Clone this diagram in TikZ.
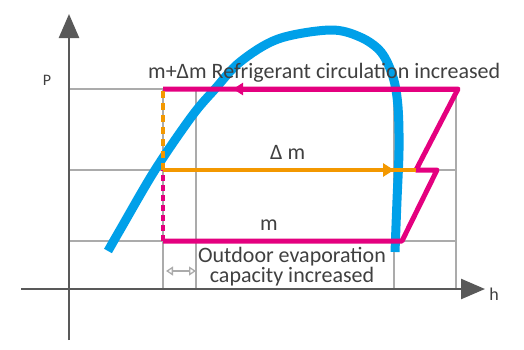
\documentclass[tikz,border=0pt]{standalone}
\usepackage{fontspec}
\setmainfont{Carlito}
\usetikzlibrary{arrows.meta}
\definecolor{cycPink}{HTML}{E4007F}
\definecolor{cycOrange}{HTML}{F39800}
\definecolor{domeBlue}{HTML}{00A0E9}
\definecolor{gridGrey}{HTML}{ABABAB}
\definecolor{axisGrey}{HTML}{595959}
\definecolor{txtGrey}{HTML}{404040}

\begin{document}
\begin{tikzpicture}[x=1pt, y=-1pt,
   axis/.style={draw=axisGrey, line width=2.5pt,
                -{Triangle[length=24pt, width=20pt]}},
   gridline/.style={draw=gridGrey, line width=1.3pt},
   dome/.style={draw=domeBlue, line width=9pt},
   cyc/.style={draw=cycPink, line width=5pt, line join=round},
   flow/.style={draw=cycOrange, line width=4.5pt},
   lbl/.style={text=txtGrey, font=\fontsize{22}{20}\selectfont, inner sep=0pt}]
\useasboundingbox (0,0) rectangle (524,349);

% grid
\foreach \y in {89,170,241}
  \draw[gridline] (69,\y) -- (456,\y);
\foreach \x in {163,196,394,456}
  \draw[gridline] (\x,89) -- (\x,289);

% axes
\coordinate (pbot) at (69,340);
\coordinate (ptop) at (69,14);
\coordinate (hleft) at (21,289);
\coordinate (hright) at (485,289);
\draw[axis] (pbot) -- (ptop);
\draw[axis] (hleft) -- (hright);
\node[lbl, font=\fontsize{16}{16}\selectfont] (plbl) at (47,80) {P};
\node[lbl, font=\fontsize{18}{18}\selectfont, anchor=base] (hlbl) at (494,300) {h};

% saturation dome
\draw[dome] plot[smooth, tension=0.55] coordinates
  {(108,251) (120,230) (155,170) (192,116) (215,89) (240,62) (278,39)
   (330,30) (360,37) (381,52) (393,77) (398,107) (399,150) (397,200)
   (395,252)};

% cycle corners
\coordinate (tl) at (163,89);
\coordinate (tr) at (458,89);
\coordinate (ta) at (233,89);
\coordinate (zl) at (416,170);
\coordinate (zr) at (437,170);
\coordinate (br) at (402,241);
\coordinate (bl) at (163,241);
\coordinate (ml) at (163,170);
\coordinate (ma) at (394,170);

\draw[cyc] (bl) -- (br) -- (zr) -- (zl) -- (tr) -- (tl);
\draw[cyc, -{Triangle[length=10pt, width=12pt]}] (tr) -- (ta);
\draw[cyc, line width=4pt, dash pattern=on 6pt off 4pt] (bl) -- (ml);
\draw[flow, line width=4pt, dash pattern=on 7pt off 5pt] (ml) -- (tl);
\draw[flow] (ml) -- (zl);
\draw[flow, -{Triangle[length=11pt, width=13pt]}] (ml) -- (ma);

% capacity gap
\draw[gridGrey, line width=1.3pt, {Triangle[open, length=7pt, width=9pt]}-{Triangle[open, length=7pt, width=9pt]}]
  (bl) ++(3,30) coordinate (ga) -- (196,271) coordinate (gb);

% labels
\node[lbl, anchor=base west] (circ) at (148,78)
  {m+Δm Refrigerant circulation increased};
\node[lbl, anchor=base west] (dm) at (270,159) {Δ m};
\node[lbl, anchor=base west] (m) at (260,230) {m};
\node[lbl, align=center, anchor=base] (evap) at (292,282)
  {Outdoor evaporation\\capacity increased};
\end{tikzpicture}
\end{document}
